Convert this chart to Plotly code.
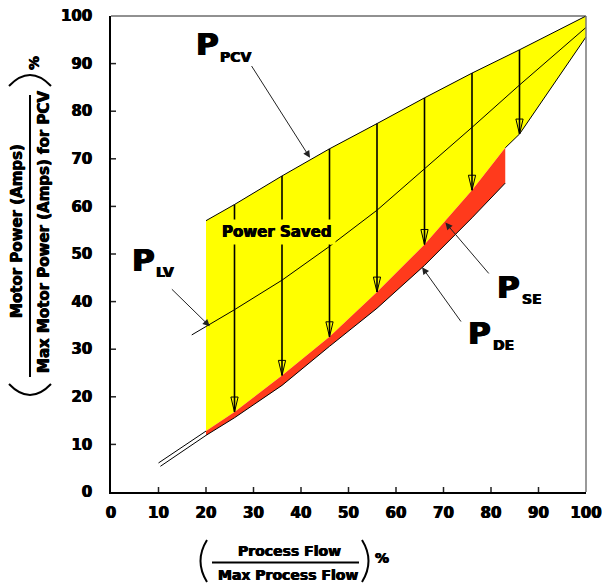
import plotly.graph_objects as go

# ---------------- data ----------------
pcv_x = [20, 26, 36, 46, 56, 66, 76, 86, 100]
pcv_y = [57.0, 60.4, 66.4, 72.1, 77.4, 82.8, 88.0, 92.9, 100.0]

lv_x = [17, 20, 26, 36, 46, 56, 66, 76, 86, 100]
lv_y = [33.0, 34.8, 38.3, 44.5, 51.6, 59.2, 67.8, 76.6, 85.5, 97.6]

se_x = [10, 20, 26, 36, 46, 56, 66, 76, 83]
se_y = [6.1, 12.8, 16.8, 24.5, 32.6, 42.0, 52.0, 63.4, 72.3]

se_ext_x = [83, 86, 100]
se_ext_y = [72.3, 75.2, 95.6]

de_x = [10.4, 20, 26, 36, 46, 56, 66, 76, 83]
de_y = [5.4, 11.9, 15.6, 22.4, 30.6, 38.6, 47.6, 57.6, 64.9]

arrow_x = [26, 36, 46, 56, 66, 76, 86]
arrow_from = [60.4, 66.4, 72.1, 77.4, 82.8, 88.0, 92.9]
arrow_to = [16.8, 24.5, 32.6, 42.0, 52.0, 63.4, 75.2]

x_ticks = [0, 10, 20, 30, 40, 50, 60, 70, 80, 90, 100]
y_ticks = [0, 10, 20, 30, 40, 50, 60, 70, 80, 90, 100]

YELLOW = "#FFFF00"
RED = "#FF3A1C"
FONT = "DejaVu Sans"
HEAVY = "0.45px 0 0 #000, -0.45px 0 0 #000"

# ---------------- figure ----------------
W, H = 602, 583
ML, MR, MT, MB = 111, 16, 16, 91
PW, PH = W - ML - MR, H - MT - MB


def px(xp):  # pixel -> paper x
    return (xp - ML) / PW


def py(yp):  # pixel -> paper y
    return (H - MB - yp) / PH


fig = go.Figure()

# yellow "power saved" region
yx = pcv_x + se_ext_x[::-1] + [v for v in se_x[::-1] if v >= 20]
yy = pcv_y + se_ext_y[::-1] + [se_y[i] for i in range(len(se_x) - 1, -1, -1) if se_x[i] >= 20]
fig.add_trace(go.Scatter(x=yx, y=yy, fill="toself", fillcolor=YELLOW, mode="none",
                         hoverinfo="skip"))

# red band between SE and DE
rx = [v for v in se_x if v >= 20] + [v for v in de_x[::-1] if v >= 20]
ry = [se_y[i] for i in range(len(se_x)) if se_x[i] >= 20] + \
     [de_y[i] for i in range(len(de_x) - 1, -1, -1) if de_x[i] >= 20]
fig.add_trace(go.Scatter(x=rx, y=ry, fill="toself", fillcolor=RED, mode="none",
                         hoverinfo="skip"))

line = dict(color="black", width=1)
fig.add_trace(go.Scatter(x=pcv_x, y=pcv_y, mode="lines", line=line, hoverinfo="skip"))
fig.add_trace(go.Scatter(x=lv_x, y=lv_y, mode="lines", line=line, hoverinfo="skip"))
fig.add_trace(go.Scatter(x=se_x[:2], y=se_y[:2], mode="lines", line=line, hoverinfo="skip"))
fig.add_trace(go.Scatter(x=se_ext_x, y=se_ext_y, mode="lines", line=line, hoverinfo="skip"))
fig.add_trace(go.Scatter(x=de_x, y=de_y, mode="lines", line=line, hoverinfo="skip"))

shapes = []
# vertical arrows with hollow heads
hw = 3.6 / (PW / 100)
hh = 15.0 / (PH / 100)
for xa, y0, y1 in zip(arrow_x, arrow_from, arrow_to):
    shapes.append(dict(type="line", xref="x", yref="y", x0=xa, x1=xa, y0=y0, y1=y1,
                       line=dict(color="black", width=1.6), layer="above"))
    shapes.append(dict(type="path", xref="x", yref="y",
                       path=f"M {xa-hw},{y1+hh} L {xa},{y1} L {xa+hw},{y1+hh} Z",
                       line=dict(color="black", width=1), layer="above"))

# crossing tick marks
for t in x_ticks[1:-1]:
    shapes.append(dict(type="line", xref="x", yref="y", x0=t, x1=t, ysizemode="pixel",
                       yanchor=0, y0=-5, y1=5, line=dict(color="#222", width=1.5), layer="above"))
for t in y_ticks[1:-1]:
    shapes.append(dict(type="line", xref="x", yref="y", y0=t, y1=t, xsizemode="pixel",
                       xanchor=0, x0=-5, x1=5, line=dict(color="#222", width=1.5), layer="above"))

# frame (top and right)
shapes.append(dict(type="line", xref="paper", yref="paper", x0=0, x1=1, y0=1, y1=1,
                   line=dict(color="#222", width=1), layer="above"))
shapes.append(dict(type="line", xref="paper", yref="paper", x0=1, x1=1, y0=0, y1=1,
                   line=dict(color="#777", width=1.5), layer="above"))

# axis-title fraction bars and parentheses
shapes.append(dict(type="line", xref="paper", yref="paper", x0=px(212), x1=px(359),
                   y0=py(562.5), y1=py(562.5), line=dict(color="black", width=2)))
shapes.append(dict(type="path", xref="paper", yref="paper",
                   path=f"M {px(207)},{py(540)} Q {px(194)},{py(561)} {px(207)},{py(582)}",
                   line=dict(color="black", width=2)))
shapes.append(dict(type="path", xref="paper", yref="paper",
                   path=f"M {px(362)},{py(540)} Q {px(375)},{py(561)} {px(362)},{py(582)}",
                   line=dict(color="black", width=2)))
shapes.append(dict(type="line", xref="paper", yref="paper", x0=px(30), x1=px(30),
                   y0=py(95), y1=py(377), line=dict(color="black", width=2)))
shapes.append(dict(type="path", xref="paper", yref="paper",
                   path=f"M {px(9)},{py(86)} Q {px(30)},{py(64)} {px(51)},{py(86)}",
                   line=dict(color="black", width=2)))
shapes.append(dict(type="path", xref="paper", yref="paper",
                   path=f"M {px(9)},{py(384)} Q {px(30)},{py(406)} {px(51)},{py(384)}",
                   line=dict(color="black", width=2)))

ann = []


def bold(s):
    return dict(family=FONT, size=s, color="black", weight="bold", shadow=HEAVY)


C = dict(xanchor="center", yanchor="middle")

# curve labels: big P + subscript
labels = [
    ("PCV", 20.3, 94.1, 26.4, 91.4, 29.4, 89.8, 41.9, 70.2),
    ("LV", 6.8, 48.8, 11.4, 46.2, 12.5, 42.9, 20.8, 34.8),
    ("SE", 83.7, 43.1, 88.6, 40.6, 79.8, 45.6, 70.4, 56.6),
    ("DE", 77.5, 33.3, 82.6, 30.8, 73.9, 35.5, 65.5, 47.2),
]
for sub, pxx, pyy, sxx, syy, tx, ty, hx, hy in labels:
    ann.append(dict(x=pxx, y=pyy, xref="x", yref="y", text="P", showarrow=False, **C,
                    font=dict(family=FONT, size=31, color="black", weight="bold",
                              shadow="0.8px 0 0 #000, -0.8px 0 0 #000")))
    ann.append(dict(x=sxx, y=syy, xref="x", yref="y", text=sub, showarrow=False, **C,
                    font=bold(14)))
    ann.append(dict(x=hx, y=hy, ax=tx, ay=ty, xref="x", yref="y", axref="x", ayref="y",
                    text="", showarrow=True, arrowhead=2, arrowsize=1.4, arrowwidth=1,
                    arrowcolor="#222"))

ann.append(dict(x=35.0, y=54.6, xref="x", yref="y", text="Power Saved", showarrow=False,
                font=bold(15), bgcolor=YELLOW, borderpad=3, **C))

# x-axis title
ann.append(dict(x=px(289), y=py(551), xref="paper", yref="paper", text="Process Flow",
                showarrow=False, font=bold(14), **C))
ann.append(dict(x=px(288), y=py(575), xref="paper", yref="paper", text="Max Process Flow",
                showarrow=False, font=bold(14), **C))
ann.append(dict(x=px(382), y=py(558), xref="paper", yref="paper", text="%",
                showarrow=False, font=bold(14), **C))
# y-axis title
ann.append(dict(x=px(17), y=py(231), xref="paper", yref="paper", text="Motor Power (Amps)",
                showarrow=False, font=bold(15), textangle=-90, **C))
ann.append(dict(x=px(44), y=py(232), xref="paper", yref="paper",
                text="Max Motor Power (Amps) for PCV",
                showarrow=False, font=bold(15), textangle=-90, **C))
ann.append(dict(x=px(34), y=py(63), xref="paper", yref="paper", text="%",
                showarrow=False, font=bold(14), textangle=-90, **C))

axis_common = dict(range=[0, 100], showgrid=False, zeroline=False, showline=True,
                   linecolor="black", ticks="", tickfont=bold(15), automargin=False,
                   tickcolor="black", fixedrange=True)

fig.update_layout(
    width=W, height=H,
    margin=dict(l=ML, r=MR, t=MT, b=MB, pad=0, autoexpand=False),
    paper_bgcolor="white", plot_bgcolor="white",
    showlegend=False,
    xaxis=dict(**axis_common, tickvals=x_ticks, ticktext=[str(v) for v in x_ticks],
               linewidth=2, ticklabelstandoff=6),
    yaxis=dict(**axis_common, tickvals=y_ticks, ticktext=[str(v) for v in y_ticks],
               linewidth=1.5, ticklabelstandoff=14),
    shapes=shapes,
    annotations=ann,
)

fig.write_html("out.html", config={"displayModeBar": False},
               post_script="document.body.style.margin='0';"
                           "document.body.style.overflow='hidden';")
